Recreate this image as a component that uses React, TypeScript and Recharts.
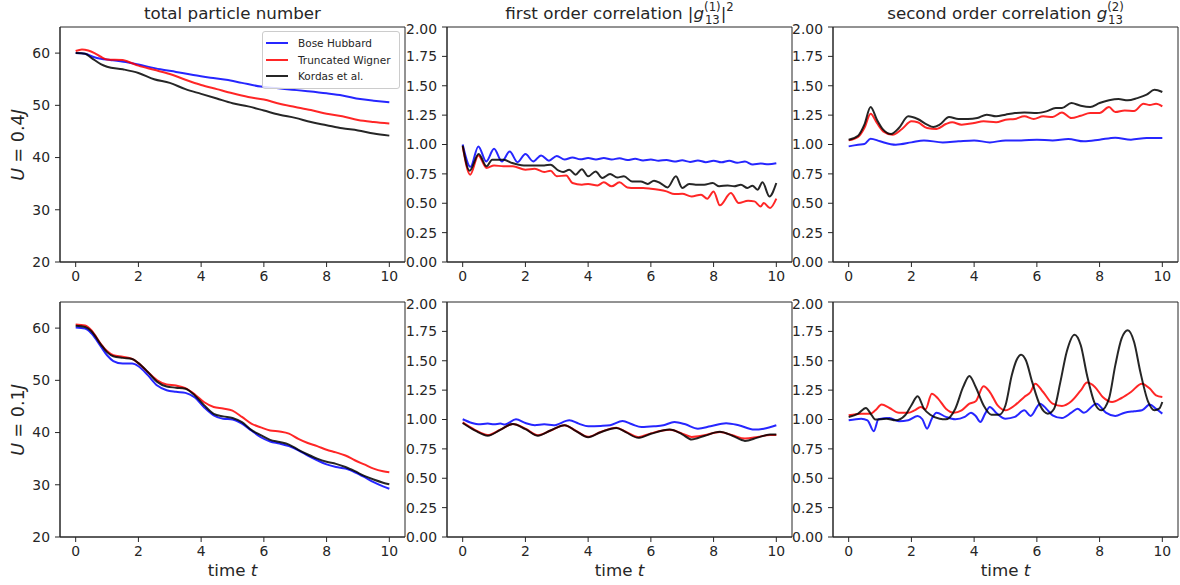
import { LineChart, Line, XAxis, YAxis, ReferenceArea, Legend } from 'recharts'

const FONT = '"DejaVu Sans", Verdana, sans-serif'
const INK = '#262626'

const TIME_TICKS = [0, 2, 4, 6, 8, 10]
const N_TICKS = [20, 30, 40, 50, 60]
const G_TICKS = [0, 0.25, 0.5, 0.75, 1, 1.25, 1.5, 1.75, 2]

const NAMES = ['Bose Hubbard', 'Truncated Wigner', 'Kordas et al.']
const COLORS = ['#0000ff', '#ff0000', '#000000']

// ---- U = 0.4J : total particle number ----
const U04_N_BH_T = [0, 0.3, 0.55, 0.8, 1.1, 1.6, 2.0, 2.7, 3.2, 3.75, 4.3, 4.8, 5.3, 5.9, 6.4, 6.9, 7.4, 8.0, 8.5, 9.07, 9.5, 10]
const U04_N_BH = [60.0, 59.9, 59.3, 58.9, 58.7, 58.3, 57.8, 56.9, 56.4, 55.8, 55.3, 54.9, 54.3, 53.6, 53.3, 53.0, 52.7, 52.3, 51.9, 51.2, 50.9, 50.6]
const U04_N_TW_T = [0, 0.2, 0.4, 0.6, 0.8, 1.0, 1.5, 1.7, 2.0, 2.5, 3.0, 3.5, 4.0, 4.5, 5.0, 5.5, 6.0, 6.5, 7.0, 7.5, 8.0, 8.5, 9.0, 9.5, 10]
const U04_N_TW = [60.4, 60.7, 60.5, 60.0, 59.3, 58.8, 58.7, 58.3, 57.6, 56.8, 56.0, 54.9, 53.9, 53.1, 52.3, 51.6, 51.1, 50.3, 49.7, 49.1, 48.4, 47.9, 47.2, 46.8, 46.5]
const U04_N_KO_T = [0, 0.3, 0.5, 0.8, 1.0, 1.5, 2.0, 2.5, 3.0, 3.5, 4.0, 4.5, 5.0, 5.5, 6.0, 6.5, 7.0, 7.5, 8.0, 8.5, 9.0, 9.5, 10]
const U04_N_KO = [60.0, 59.9, 59.1, 57.9, 57.4, 56.9, 56.2, 55.0, 54.3, 53.1, 52.2, 51.3, 50.4, 49.8, 49.0, 48.2, 47.6, 46.8, 46.2, 45.6, 45.2, 44.6, 44.2]

// ---- U = 0.4J : first order correlation ----
const U04_G1_BH_T = [0, 0.25, 0.5, 0.75, 1.0, 1.25, 1.5, 1.75, 2.0, 2.25, 2.5, 2.75, 3.0, 3.25, 3.5, 3.75, 4.0, 4.25, 4.5, 4.75, 5.0, 5.25, 5.5, 5.75, 6.0, 6.25, 6.5, 6.75, 7.0, 7.25, 7.5, 7.75, 8.0, 8.25, 8.5, 8.75, 9.0, 9.25, 9.5, 9.75, 10]
const U04_G1_BH = [1.0, 0.81, 0.984, 0.856, 0.964, 0.856, 0.94, 0.85, 0.919, 0.856, 0.907, 0.862, 0.902, 0.872, 0.89, 0.874, 0.885, 0.872, 0.885, 0.872, 0.883, 0.868, 0.878, 0.864, 0.872, 0.862, 0.868, 0.855, 0.865, 0.852, 0.864, 0.85, 0.862, 0.848, 0.862, 0.845, 0.855, 0.83, 0.838, 0.832, 0.84]
const U04_G1_TW_T = [0, 0.24, 0.5, 0.76, 1.0, 1.3, 1.6, 2.0, 2.3, 2.6, 2.8, 3.0, 3.3, 3.5, 3.8, 4.0, 4.3, 4.5, 4.75, 5.0, 5.25, 5.5, 5.75, 6.0, 6.25, 6.5, 6.75, 7.0, 7.3, 7.6, 7.8, 8.0, 8.2, 8.55, 8.8, 9.1, 9.3, 9.5, 9.6, 9.8, 10]
const U04_G1_TW = [0.984, 0.743, 0.907, 0.8, 0.822, 0.814, 0.814, 0.786, 0.794, 0.766, 0.777, 0.729, 0.737, 0.672, 0.658, 0.664, 0.652, 0.678, 0.644, 0.678, 0.635, 0.63, 0.63, 0.624, 0.615, 0.601, 0.578, 0.581, 0.558, 0.573, 0.539, 0.601, 0.482, 0.587, 0.502, 0.522, 0.516, 0.473, 0.502, 0.459, 0.539]
const U04_G1_KO_T = [0, 0.22, 0.51, 0.76, 0.94, 1.31, 1.58, 1.95, 2.6, 2.8, 3.06, 3.2, 3.4, 3.6, 3.8, 4.0, 4.24, 4.45, 4.7, 4.93, 5.14, 5.4, 5.68, 5.9, 6.1, 6.3, 6.53, 6.8, 7.0, 7.22, 7.43, 7.7, 7.97, 8.18, 8.45, 8.66, 8.87, 9.08, 9.24, 9.4, 9.56, 9.78, 10]
const U04_G1_KO = [0.99, 0.777, 0.919, 0.814, 0.871, 0.871, 0.842, 0.822, 0.822, 0.828, 0.777, 0.766, 0.786, 0.743, 0.79, 0.729, 0.771, 0.715, 0.749, 0.72, 0.729, 0.686, 0.686, 0.664, 0.692, 0.672, 0.635, 0.729, 0.63, 0.664, 0.658, 0.658, 0.672, 0.644, 0.652, 0.644, 0.658, 0.63, 0.65, 0.615, 0.678, 0.558, 0.672]

// ---- U = 0.4J : second order correlation ----
const U04_G2_BH_T = [0, 0.3, 0.5, 0.7, 1.0, 1.5, 2.0, 2.4, 3.0, 3.5, 4.0, 4.5, 5.0, 5.5, 6.0, 6.5, 7.0, 7.5, 8.0, 8.5, 9.0, 9.5, 10]
const U04_G2_BH = [0.984, 0.998, 1.004, 1.05, 1.027, 0.998, 1.018, 1.035, 1.018, 1.027, 1.035, 1.018, 1.035, 1.035, 1.041, 1.035, 1.047, 1.027, 1.041, 1.058, 1.041, 1.055, 1.055]
const U04_G2_TW_T = [0, 0.3, 0.5, 0.7, 0.9, 1.1, 1.4, 1.7, 2.0, 2.2, 2.5, 2.8, 3.1, 3.3, 3.6, 4.0, 4.3, 4.7, 5.0, 5.3, 5.6, 5.9, 6.2, 6.5, 6.8, 7.1, 7.4, 7.7, 8.0, 8.3, 8.5, 8.8, 9.1, 9.4, 9.6, 9.8, 10]
const U04_G2_TW = [1.035, 1.064, 1.14, 1.262, 1.183, 1.112, 1.083, 1.132, 1.197, 1.189, 1.14, 1.132, 1.174, 1.189, 1.169, 1.183, 1.197, 1.189, 1.211, 1.217, 1.24, 1.217, 1.24, 1.234, 1.273, 1.225, 1.245, 1.268, 1.268, 1.319, 1.276, 1.29, 1.285, 1.347, 1.336, 1.347, 1.325]
const U04_G2_KO_T = [0, 0.3, 0.5, 0.7, 0.9, 1.1, 1.35, 1.6, 1.9, 2.2, 2.5, 2.7, 2.9, 3.2, 3.5, 3.8, 4.1, 4.4, 4.7, 5.0, 5.3, 5.6, 6.0, 6.3, 6.6, 6.8, 7.1, 7.4, 7.7, 8.0, 8.3, 8.6, 8.9, 9.2, 9.5, 9.75, 10]
const U04_G2_KO = [1.041, 1.075, 1.169, 1.319, 1.211, 1.126, 1.089, 1.14, 1.24, 1.217, 1.169, 1.149, 1.169, 1.234, 1.217, 1.217, 1.225, 1.254, 1.24, 1.254, 1.268, 1.273, 1.268, 1.282, 1.31, 1.31, 1.353, 1.33, 1.319, 1.353, 1.376, 1.387, 1.376, 1.395, 1.424, 1.466, 1.447]

// ---- U = 0.1J : total particle number ----
const U01_N_T = [0, 0.3, 0.5, 0.8, 1.0, 1.2, 1.5, 1.8, 2.0, 2.3, 2.6, 2.9, 3.2, 3.5, 3.8, 4.1, 4.4, 4.7, 5.0, 5.3, 5.6, 5.9, 6.2, 6.5, 6.8, 7.1, 7.4, 7.7, 8.0, 8.3, 8.6, 8.9, 9.2, 9.5, 9.8, 10]
const U01_N_BH = [60.1, 59.9, 59.0, 56.5, 54.8, 53.7, 53.2, 53.2, 52.7, 51.0, 49.0, 48.1, 47.8, 47.6, 46.7, 44.8, 43.3, 42.65, 42.5, 41.7, 40.4, 39.1, 38.3, 37.9, 37.4, 36.6, 35.6, 34.7, 33.9, 33.4, 33.1, 32.4, 31.5, 30.5, 29.7, 29.25]
const U01_N_TW = [60.7, 60.5, 59.6, 57.0, 55.6, 54.8, 54.5, 54.1, 53.3, 51.6, 50.0, 49.2, 49.0, 48.5, 47.3, 45.8, 44.9, 44.6, 44.2, 43.0, 41.7, 41.0, 40.4, 40.2, 39.8, 38.8, 38.0, 37.4, 36.7, 36.2, 35.6, 34.7, 33.9, 33.1, 32.6, 32.4]
const U01_N_KO = [60.45, 60.2, 59.4, 56.9, 55.4, 54.6, 54.3, 54.1, 53.3, 51.6, 49.7, 48.8, 48.6, 48.4, 47.1, 45.2, 43.6, 43.1, 42.8, 42.0, 40.5, 39.5, 38.6, 38.2, 37.7, 36.7, 35.8, 35.0, 34.4, 34.0, 33.4, 32.6, 31.7, 31.0, 30.4, 30.1]

// ---- U = 0.1J : first order correlation ----
const U01_G1_BH_T = [0, 0.3, 0.5, 0.8, 1.0, 1.2, 1.35, 1.7, 2.0, 2.3, 2.6, 2.9, 3.4, 3.7, 4.0, 4.4, 4.7, 5.1, 5.4, 5.7, 6.1, 6.4, 6.75, 7.1, 7.5, 7.9, 8.4, 8.8, 9.3, 9.6, 10]
const U01_G1_BH = [1.002, 0.97, 0.959, 0.965, 0.959, 0.965, 0.957, 1.002, 0.97, 0.951, 0.959, 0.951, 0.993, 0.965, 0.942, 0.945, 0.951, 0.987, 0.959, 0.936, 0.942, 0.951, 0.979, 0.959, 0.922, 0.942, 0.968, 0.951, 0.914, 0.922, 0.951]
const U01_G1_T = [0, 0.4, 0.8, 1.2, 1.6, 2.0, 2.4, 2.8, 3.25, 3.6, 4.0, 4.4, 4.9, 5.2, 5.6, 6.0, 6.6, 7.0, 7.3, 7.7, 8.2, 8.6, 9.0, 9.4, 9.8, 10]
const U01_G1_TW = [0.975, 0.91, 0.868, 0.914, 0.962, 0.922, 0.866, 0.906, 0.952, 0.906, 0.853, 0.894, 0.93, 0.896, 0.85, 0.882, 0.912, 0.88, 0.852, 0.866, 0.894, 0.866, 0.838, 0.851, 0.868, 0.868]
const U01_G1_KO = [0.97, 0.905, 0.862, 0.912, 0.962, 0.918, 0.862, 0.906, 0.952, 0.904, 0.849, 0.892, 0.928, 0.892, 0.844, 0.878, 0.914, 0.874, 0.83, 0.86, 0.895, 0.862, 0.818, 0.846, 0.872, 0.872]

// ---- U = 0.1J : second order correlation ----
const U01_G2_BH_T = [0, 0.4, 0.6, 0.8, 0.95, 1.3, 1.6, 1.9, 2.2, 2.35, 2.5, 2.65, 2.8, 3.1, 3.4, 3.7, 3.9, 4.05, 4.2, 4.35, 4.5, 4.7, 5.0, 5.3, 5.6, 5.8, 6.1, 6.3, 6.5, 6.8, 7.1, 7.3, 7.5, 7.9, 8.2, 8.5, 8.8, 9.1, 9.35, 9.6, 9.8, 10]
const U01_G2_BH = [0.993, 1.007, 0.993, 0.9, 1.002, 1.013, 0.985, 0.993, 1.03, 1.002, 0.922, 1.007, 1.058, 1.022, 1.002, 1.022, 1.058, 1.03, 0.979, 1.05, 1.107, 1.058, 1.007, 1.022, 1.078, 1.03, 1.135, 1.092, 1.036, 1.013, 1.058, 1.092, 1.058, 1.135, 1.058, 1.03, 1.058, 1.07, 1.078, 1.127, 1.092, 1.05]
const U01_G2_TW_T = [0, 0.4, 0.7, 0.85, 1.05, 1.3, 1.6, 1.9, 2.1, 2.3, 2.45, 2.65, 2.85, 3.1, 3.35, 3.6, 3.85, 4.05, 4.3, 4.5, 4.75, 5.0, 5.3, 5.6, 5.8, 5.95, 6.2, 6.5, 6.8, 7.1, 7.4, 7.6, 7.85, 8.1, 8.4, 8.7, 9.0, 9.35, 9.6, 9.8, 10]
const U01_G2_TW = [1.036, 1.05, 1.05, 1.078, 1.127, 1.098, 1.058, 1.058, 1.078, 1.107, 1.087, 1.22, 1.178, 1.092, 1.058, 1.078, 1.135, 1.155, 1.283, 1.234, 1.121, 1.078, 1.121, 1.192, 1.234, 1.305, 1.234, 1.135, 1.115, 1.155, 1.248, 1.314, 1.277, 1.192, 1.149, 1.183, 1.234, 1.305, 1.263, 1.206, 1.192]
const U01_G2_KO_T = [0, 0.3, 0.55, 0.7, 0.85, 1.2, 1.5, 1.8, 2.0, 2.2, 2.4, 2.6, 2.9, 3.1, 3.4, 3.65, 3.85, 4.05, 4.3, 4.55, 4.8, 5.0, 5.2, 5.35, 5.5, 5.65, 5.85, 6.1, 6.35, 6.55, 6.75, 6.95, 7.2, 7.4, 7.6, 7.85, 8.05, 8.3, 8.5, 8.7, 8.9, 9.1, 9.3, 9.55, 9.75, 9.9, 10]
const U01_G2_KO = [1.022, 1.05, 1.098, 1.05, 0.999, 1.007, 0.993, 1.036, 1.121, 1.197, 1.092, 1.041, 1.007, 1.002, 1.092, 1.277, 1.371, 1.277, 1.121, 1.041, 1.041, 1.121, 1.376, 1.504, 1.552, 1.504, 1.32, 1.121, 1.05, 1.092, 1.32, 1.575, 1.722, 1.632, 1.376, 1.135, 1.078, 1.178, 1.461, 1.688, 1.759, 1.66, 1.404, 1.149, 1.078, 1.092, 1.149]

type Series = { t: number[]; v: number[] }

const COLS: [number, number][] = [[60, 405], [447, 792], [833, 1178]]
const ROWS: [number, number][] = [[27, 262], [302, 537]]

const PAD_L = 50
const PAD_T = 6
const PAD_R = 6
const PAD_B = 26

const fmtG = (v: number) => v.toFixed(2)

// entries kept in plotting order rather than the library's alphabetical sort
function LegendBox({ payload }: any) {
  const items = [...(payload || [])].sort(
    (a: any, b: any) => NAMES.indexOf(a.value) - NAMES.indexOf(b.value)
  )
  return (
    <div
      style={{
        background: 'rgba(255,255,255,0.85)',
        border: '1px solid #cccccc',
        borderRadius: 3,
        padding: '3px 3px',
        fontFamily: FONT,
        fontSize: 10.5,
        color: INK,
        boxSizing: 'border-box',
      }}
    >
      {items.map((p: any) => (
        <div key={p.value} style={{ display: 'flex', alignItems: 'center', height: 16.5 }}>
          <span style={{ width: 22, borderTop: `2px solid ${p.color}`, opacity: 0.85, marginRight: 10 }} />
          <span>{p.value}</span>
        </div>
      ))}
    </div>
  )
}

interface PanelProps {
  col: number
  row: number
  yDomain: [number, number]
  yTicks: number[]
  fmt?: (v: number) => string
  series: Series[]
  legend?: boolean
}

function Panel({ col, row, yDomain, yTicks, fmt, series, legend }: PanelProps) {
  const [x0, x1] = COLS[col]
  const [y0, y1] = ROWS[row]
  const w = x1 - x0
  const h = y1 - y0
  const tickStyle = { fill: INK, fontSize: 13.9, fontFamily: FONT }
  return (
    <div style={{ position: 'absolute', left: x0 - PAD_L, top: y0 - PAD_T }}>
      <LineChart
        width={w + PAD_L + PAD_R}
        height={h + PAD_T + PAD_B}
        margin={{ top: PAD_T, right: PAD_R, bottom: 0, left: 0 }}
      >
        <XAxis
          type="number"
          dataKey="t"
          domain={[-0.5, 10.5]}
          ticks={TIME_TICKS}
          allowDataOverflow
          height={PAD_B}
          tick={tickStyle}
          tickSize={5}
          tickMargin={4}
          axisLine={{ stroke: INK }}
          tickLine={{ stroke: INK }}
        />
        <YAxis
          type="number"
          domain={yDomain}
          ticks={yTicks}
          allowDataOverflow
          width={PAD_L}
          tick={tickStyle}
          tickFormatter={fmt}
          tickSize={5}
          tickMargin={5}
          axisLine={{ stroke: INK }}
          tickLine={{ stroke: INK }}
        />
        <ReferenceArea
          x1={-0.5}
          x2={10.5}
          y1={yDomain[0]}
          y2={yDomain[1]}
          fill="none"
          stroke={INK}
          strokeWidth={1}
        />
        {series.map((s, i) => (
          <Line
            key={NAMES[i]}
            name={NAMES[i]}
            data={s.t.map((t, k) => ({ t, v: s.v[k] }))}
            dataKey="v"
            type="monotone"
            stroke={COLORS[i]}
            strokeOpacity={0.85}
            strokeWidth={2}
            dot={false}
            isAnimationActive={false}
          />
        ))}
        {legend && (
          <Legend
            layout="vertical"
            align="center"
            verticalAlign="middle"
            content={<LegendBox />}
            wrapperStyle={{ left: 262 - (x0 - PAD_L), top: 31 - (y0 - PAD_T), width: 138 }}
          />
        )}
      </LineChart>
    </div>
  )
}

function SupSub({ sup, sub }: { sup: string; sub: string }) {
  return (
    <span
      style={{
        display: 'inline-flex',
        flexDirection: 'column',
        fontSize: 11.7,
        lineHeight: '13px',
        position: 'relative',
        top: -8,
        fontStyle: 'normal',
      }}
    >
      <span>{sup}</span>
      <span>{sub}</span>
    </span>
  )
}

const titleStyle = (cx: number) => ({
  position: 'absolute' as const,
  left: cx - 200,
  width: 400,
  top: 3,
  textAlign: 'center' as const,
  fontFamily: FONT,
  fontSize: 16.7,
  lineHeight: '20px',
  color: INK,
  whiteSpace: 'nowrap' as const,
})

function YLabel({ cy, value }: { cy: number; value: string }) {
  return (
    <div
      style={{
        position: 'absolute',
        left: 17.5 - 60,
        top: cy - 10,
        width: 120,
        lineHeight: '20px',
        textAlign: 'center',
        transform: 'rotate(-90deg)',
        fontFamily: FONT,
        fontSize: 17.5,
        color: INK,
        whiteSpace: 'nowrap',
      }}
    >
      <i>U</i> = {value}<i>J</i>
    </div>
  )
}

function XLabel({ cx }: { cx: number }) {
  return (
    <div
      style={{
        position: 'absolute',
        left: cx - 60,
        width: 120,
        top: 560,
        lineHeight: '20px',
        textAlign: 'center',
        fontFamily: FONT,
        fontSize: 16.7,
        color: INK,
      }}
    >
      time <i>t</i>
    </div>
  )
}

export default function App() {
  const centers = COLS.map(([a, b]) => (a + b) / 2)
  return (
    <div
      style={{
        position: 'absolute',
        left: 0,
        top: 0,
        width: 1180,
        height: 585,
        background: '#ffffff',
        overflow: 'hidden',
      }}
    >
      <div style={titleStyle(centers[0])}>total particle number</div>
      <div style={titleStyle(centers[1])}>
        first order correlation |<i>g</i>
        <SupSub sup="(1)" sub="13" />|
        <span style={{ fontSize: 11.7, position: 'relative', top: -8 }}>2</span>
      </div>
      <div style={titleStyle(centers[2])}>
        second order correlation <i>g</i>
        <SupSub sup="(2)" sub="13" />
      </div>

      <YLabel cy={(ROWS[0][0] + ROWS[0][1]) / 2} value="0.4" />
      <YLabel cy={(ROWS[1][0] + ROWS[1][1]) / 2} value="0.1" />
      {centers.map((cx) => (
        <XLabel key={cx} cx={cx} />
      ))}

      <Panel
        col={0}
        row={0}
        yDomain={[20, 65]}
        yTicks={N_TICKS}
        legend
        series={[
          { t: U04_N_BH_T, v: U04_N_BH },
          { t: U04_N_TW_T, v: U04_N_TW },
          { t: U04_N_KO_T, v: U04_N_KO },
        ]}
      />
      <Panel
        col={1}
        row={0}
        yDomain={[0, 2]}
        yTicks={G_TICKS}
        fmt={fmtG}
        series={[
          { t: U04_G1_BH_T, v: U04_G1_BH },
          { t: U04_G1_TW_T, v: U04_G1_TW },
          { t: U04_G1_KO_T, v: U04_G1_KO },
        ]}
      />
      <Panel
        col={2}
        row={0}
        yDomain={[0, 2]}
        yTicks={G_TICKS}
        fmt={fmtG}
        series={[
          { t: U04_G2_BH_T, v: U04_G2_BH },
          { t: U04_G2_TW_T, v: U04_G2_TW },
          { t: U04_G2_KO_T, v: U04_G2_KO },
        ]}
      />
      <Panel
        col={0}
        row={1}
        yDomain={[20, 65]}
        yTicks={N_TICKS}
        series={[
          { t: U01_N_T, v: U01_N_BH },
          { t: U01_N_T, v: U01_N_TW },
          { t: U01_N_T, v: U01_N_KO },
        ]}
      />
      <Panel
        col={1}
        row={1}
        yDomain={[0, 2]}
        yTicks={G_TICKS}
        fmt={fmtG}
        series={[
          { t: U01_G1_BH_T, v: U01_G1_BH },
          { t: U01_G1_T, v: U01_G1_TW },
          { t: U01_G1_T, v: U01_G1_KO },
        ]}
      />
      <Panel
        col={2}
        row={1}
        yDomain={[0, 2]}
        yTicks={G_TICKS}
        fmt={fmtG}
        series={[
          { t: U01_G2_BH_T, v: U01_G2_BH },
          { t: U01_G2_TW_T, v: U01_G2_TW },
          { t: U01_G2_KO_T, v: U01_G2_KO },
        ]}
      />
    </div>
  )
}
